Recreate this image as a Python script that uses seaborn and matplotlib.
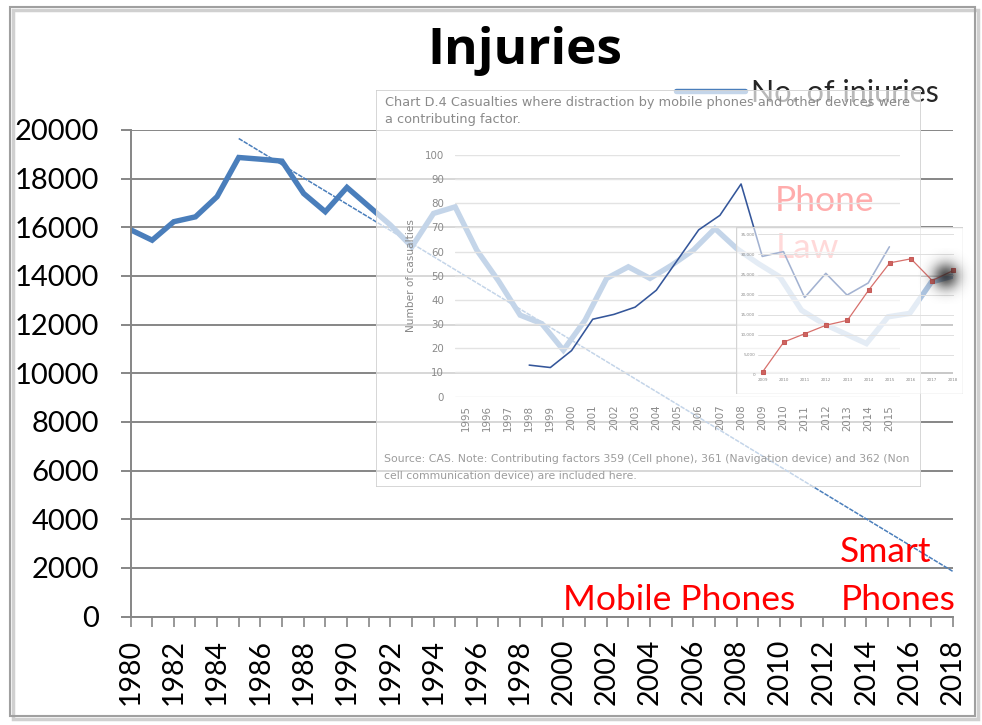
import numpy as np
import pandas as pd
import matplotlib
matplotlib.use("Agg")
import matplotlib.pyplot as plt
import seaborn as sns
from matplotlib.patches import Rectangle
from matplotlib.lines import Line2D

# ---------------- data ----------------
years = list(range(1980, 2019))
injuries = [15900, 15470, 16230, 16430, 17260, 18870, 18800, 18720, 17390, 16640,
            17640, 16870, 16100, 15200, 16570, 16840, 15060, 13800, 12390, 12040,
            10950, 12180, 13900, 14375, 13900, 14440, 15060, 15950, 15130, 14510,
            13960, 12590, 12040, 11630, 11220, 12320, 12460, 13750, 14000]
trend_years = [1985, 2018]
trend_values = [19650, 1850]

d4_years = list(range(1998, 2016))
d4_casualties = [13, 12, 19, 32, 34, 37, 44, 56.5, 69, 75, 88, 58, 60, 41, 51, 42, 47, 62]

inset_years = list(range(2009, 2019))
inset_values = [800, 8200, 10300, 12400, 13600, 21100, 27900, 28900, 23500, 26000]

main_yticks = list(range(0, 20001, 2000))
main_xticks = list(range(1980, 2019, 2))
d4_yticks = list(range(0, 101, 10))
d4_xticks = list(range(1995, 2016))
inset_yticks = list(range(0, 35001, 5000))
inset_xticks = list(range(2009, 2019))

title = "Injuries"
legend_label = "No. of injuries"
d4_title = ["Chart D.4 Casualties where distraction by mobile phones and other devices were",
            "a contributing factor."]
d4_source = ["Source: CAS. Note: Contributing factors 359 (Cell phone), 361 (Navigation device) and 362 (Non",
             "cell communication device) are included here."]
d4_ylabel = "Number of casualties"

# ---------------- style ----------------
sns.set_style("white")
plt.rcParams['font.family'] = ['Lato', 'DejaVu Sans']

W, H = 982, 725
fig = plt.figure(figsize=(W / 100, H / 100), dpi=100)
fig.patch.set_facecolor('white')


def box(x0, y0, x1, y1):
    return [x0 / W, 1 - y1 / H, (x1 - x0) / W, (y1 - y0) / H]


def fx(x):
    return x / W


def fy(y):
    return 1 - y / H


MAIN_BLUE = '#4a7ebb'
GRID = '#868686'

# outer frame with shadow
fig.patches.append(Rectangle((fx(13), fy(719)), (975 - 10) / W, (716 - 7) / H,
                             transform=fig.transFigure, facecolor='none',
                             edgecolor='#d0d0d0', lw=2.5, zorder=0))
fig.patches.append(Rectangle((fx(10), fy(716)), (975 - 10) / W, (716 - 7) / H,
                             transform=fig.transFigure, facecolor='none',
                             edgecolor='#a0a0a0', lw=1.5, zorder=0))

# ---------------- main chart ----------------
ax = fig.add_axes(box(130.5, 130, 953, 616.5))
ax.set_zorder(1)
ax.patch.set_alpha(0)
df_main = pd.DataFrame({'year': years, 'injuries': injuries})
sns.lineplot(data=df_main, x='year', y='injuries', ax=ax, color=MAIN_BLUE,
             lw=3.9, legend=False, solid_joinstyle='miter')
df_trend = pd.DataFrame({'year': trend_years, 'value': trend_values})
sns.lineplot(data=df_trend, x='year', y='value', ax=ax, color=MAIN_BLUE,
             lw=1.1, legend=False, dashes=False)
ax.lines[-1].set_linestyle((0, (3, 0.8)))
ax.set_xlim(1980, 2018)
ax.set_ylim(0, 20000)
ax.set_yticks(main_yticks)
ax.set_yticklabels([str(v) for v in main_yticks])
ax.set_xticks(main_xticks)
ax.set_xticklabels([str(v) for v in main_xticks], rotation=90)
ax.set_xticks(years, minor=True)
ax.yaxis.grid(True, color=GRID, lw=1.4)
ax.xaxis.grid(False)
ax.set_axisbelow(True)
for s in ['top', 'right']:
    ax.spines[s].set_visible(False)
for s in ['left', 'bottom']:
    ax.spines[s].set_color(GRID)
    ax.spines[s].set_linewidth(1.4)
ax.tick_params(axis='y', length=7.2, width=1.4, color=GRID, pad=15.5,
               labelsize=21, labelcolor='black', left=True)
ax.tick_params(axis='x', which='both', length=7, width=1.2, color=GRID,
               bottom=True, direction='out')
ax.tick_params(axis='x', which='major', pad=9, labelsize=20.5, labelcolor='black')
ax.set_xlabel('')
ax.set_ylabel('')

# annotations (red)
ax.text(fx(563), fy(610), 'Mobile Phones', transform=fig.transFigure,
        color='#ff0000', fontsize=25.5, va='baseline', ha='left')
ax.text(fx(840), fy(562), 'Smart', transform=fig.transFigure,
        color='#ff0000', fontsize=25.5, va='baseline', ha='left')
ax.text(fx(841), fy(610), 'Phones', transform=fig.transFigure,
        color='#ff0000', fontsize=25.5, va='baseline', ha='left')
ax.text(fx(775), fy(211), 'Phone', transform=fig.transFigure,
        color='#ff0000', fontsize=25.5, va='baseline', ha='left')
ax.text(fx(776), fy(258), 'Law', transform=fig.transFigure,
        color='#ff0000', fontsize=25.5, va='baseline', ha='left')

# title
fig.text(fx(525), fy(64), title, fontsize=37, fontweight='bold',
         family=['Open Sans', 'DejaVu Sans'], ha='center', va='baseline', color='black')

# legend (under overlay)
ax.legend(handles=[Line2D([], [], color=MAIN_BLUE, lw=3.9)], labels=[legend_label],
          frameon=False, fontsize=22, loc='center left',
          bbox_to_anchor=(fx(676), fy(93)), bbox_transform=fig.transFigure,
          borderpad=0, borderaxespad=0, handlelength=2.25, handletextpad=0.2)

# ---------------- Chart D.4 overlay ----------------
axb = fig.add_axes(box(375.5, 89.5, 921.5, 487))
axb.set_zorder(2)
axb.set_axis_off()
axb.add_patch(Rectangle((0, 0), 1, 1, transform=axb.transAxes,
                        facecolor=(1, 1, 1, 0.68), edgecolor='#cfcfcf', lw=1.2))
GRAY_TXT = '#8a8a8a'
for i, line in enumerate(d4_title):
    axb.text(fx(385), fy(102.7 + 16.6 * i), line, transform=fig.transFigure,
             family='DejaVu Sans', fontsize=9.3, color=GRAY_TXT, va='center', ha='left')
for i, line in enumerate(d4_source):
    axb.text(fx(384), fy(459.5 + 16.5 * i), line, transform=fig.transFigure,
             family='DejaVu Sans', fontsize=7.8, color='#9c9c9c', va='center', ha='left')
axb.text(fx(411.5), fy(276), d4_ylabel, transform=fig.transFigure, rotation=90,
         family='DejaVu Sans', fontsize=7.6, color=GRAY_TXT, va='center', ha='center')

axd = fig.add_axes(box(455, 155, 900, 396.5))
axd.set_zorder(3)
axd.patch.set_alpha(0)
df_d4 = pd.DataFrame({'year': d4_years, 'casualties': d4_casualties})
sns.lineplot(data=df_d4, x='year', y='casualties', ax=axd, color='#34569a',
             lw=1.15, legend=False)
axd.set_xlim(1994.5, 2015.5)
axd.set_ylim(0, 100)
axd.set_yticks(d4_yticks)
axd.set_xticks(d4_xticks)
axd.set_xticklabels([str(v) for v in d4_xticks], rotation=90)
axd.yaxis.grid(True, color='#e3e3e3', lw=1.0)
axd.xaxis.grid(False)
for s in axd.spines.values():
    s.set_visible(False)
axd.tick_params(axis='both', length=0, labelsize=7.4, labelcolor=GRAY_TXT)
axd.tick_params(axis='y', pad=8)
axd.tick_params(axis='x', pad=6)
for lab in axd.get_xticklabels() + axd.get_yticklabels():
    lab.set_family('DejaVu Sans')
axd.set_xlabel('')
axd.set_ylabel('')

# ---------------- inner inset ----------------
axib = fig.add_axes(box(736, 227, 963, 393.5))
axib.set_zorder(4)
axib.set_axis_off()
axib.add_patch(Rectangle((0, 0), 1, 1, transform=axib.transAxes,
                         facecolor=(1, 1, 1, 0.55), edgecolor='#d4d4d4', lw=1.0))

axi = fig.add_axes(box(758, 234.3, 954, 375))
axi.set_zorder(5)
axi.patch.set_alpha(0)
df_in = pd.DataFrame({'year': inset_years, 'value': inset_values})
sns.lineplot(data=df_in, x='year', y='value', ax=axi, color='#d7706c', lw=0.9,
             marker='s', markersize=3.2, markeredgecolor='#c55a57',
             markerfacecolor='#cf6460', legend=False, clip_on=False)
axi.set_xlim(2008.78, 2018.03)
axi.set_ylim(0, 35000)
axi.set_yticks(inset_yticks)
axi.set_yticklabels([f"{v:,}" for v in inset_yticks])
axi.set_xticks(inset_xticks)
axi.yaxis.grid(True, color='#e0e0e0', lw=0.7)
axi.xaxis.grid(False)
for s in axi.spines.values():
    s.set_visible(False)
axi.tick_params(axis='both', length=0, labelsize=3, labelcolor='#8a8a8a', pad=2)
for lab in axi.get_xticklabels() + axi.get_yticklabels():
    lab.set_family('DejaVu Sans')
axi.set_xlabel('')
axi.set_ylabel('')

# blurred dark spot (decoration)
axs = fig.add_axes(box(918, 248, 974, 304))
axs.set_zorder(6)
axs.set_axis_off()
gx = np.linspace(-1, 1, 120)
GX, GY = np.meshgrid(gx, gx)
alpha = 0.78 * np.exp(-(GX ** 2 + GY ** 2) / (2 * 0.33 ** 2))
rgba = np.zeros((120, 120, 4))
rgba[..., :3] = 0.12
rgba[..., 3] = alpha
axs.imshow(rgba, extent=(0, 1, 0, 1), interpolation='bilinear')
axs.set_xlim(0, 1)
axs.set_ylim(0, 1)

fig.savefig('out.png', dpi=100, facecolor='white')
